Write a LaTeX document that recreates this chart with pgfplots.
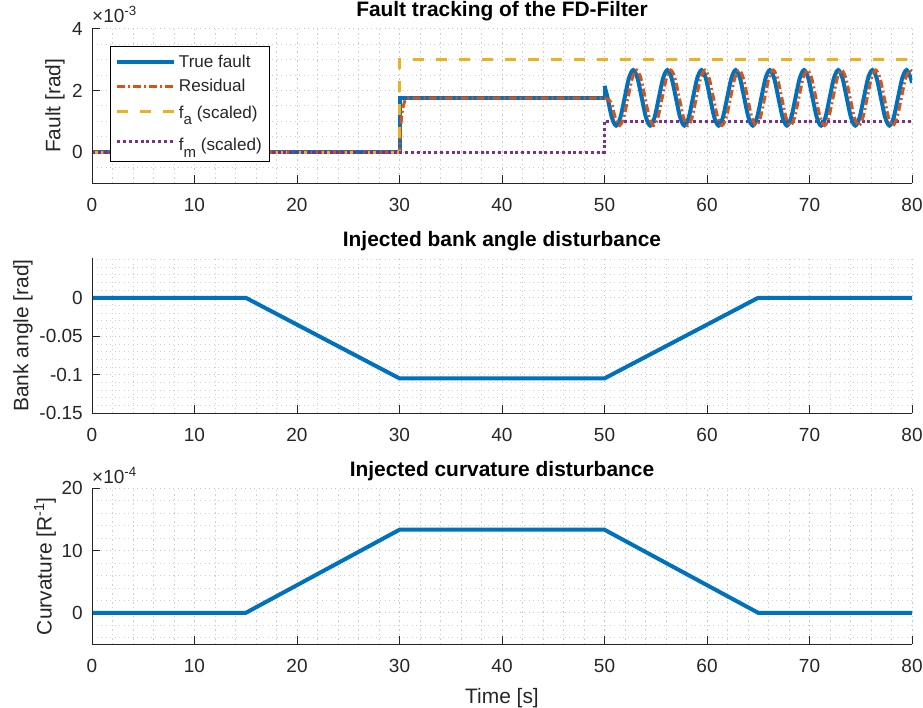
\documentclass[border=0pt]{standalone}
\usepackage{fontspec}
\setmainfont{Liberation Sans}
\usepackage{pgfplots}
\pgfplotsset{compat=1.18}
\definecolor{mblue}{rgb}{0,0.447,0.741}
\definecolor{morange}{rgb}{0.85,0.325,0.098}
\definecolor{myellow}{rgb}{0.929,0.694,0.125}
\definecolor{mpurple}{rgb}{0.494,0.184,0.556}
\definecolor{axgray}{rgb}{0.15,0.15,0.15}
\newcommand{\sub}[2]{\raisebox{-6.5bp}[0pt][#2]{\fontsize{15bp}{17bp}\selectfont #1}}
\pgfplotsset{
  mstyle/.style={
    scale only axis, width=820bp,
    xmin=0, xmax=80, xtick={0,10,...,80}, minor x tick num=4,
    enlargelimits=false, scaled ticks=false,
    axis line style={draw=none}, tick pos=left,
    tick align=inside, major tick length=8bp, minor tick length=0pt,
    tick style={line width=1bp, draw=axgray},
    grid=both,
    major grid style={line width=0.8bp, gray!45, dash pattern=on 1.2bp off 3.3bp},
    minor grid style={line width=0.8bp, gray!38, dash pattern=on 1.2bp off 3.3bp},
    ticklabel style={font=\fontsize{19bp}{22bp}\selectfont, text=axgray},
    xticklabel style={inner sep=0pt, anchor=north, yshift=-15bp},
    yticklabel style={inner sep=0pt, anchor=east, xshift=-9bp},
    label style={font=\fontsize{20.9bp}{24bp}\selectfont, text=axgray},
    every axis title shift=0pt,
    title style={font=\bfseries\fontsize{20.9bp}{24bp}\selectfont, text=black, at={(0.5,1)}, anchor=base},
    /pgf/number format/assume math mode=true,
    legend image code/.code={\draw[#1] (0bp,0bp) -- (57bp,0bp);},
  }
}
\begin{document}
\begin{tikzpicture}
\useasboundingbox (0,0) rectangle (923bp,-708bp);
% ---------------- top ----------------
\begin{axis}[mstyle, name=top, at={(92bp,-28.7bp)}, anchor=north west, height=154.3bp,
  ymin=-0.001, ymax=0.004, ytick={0,0.002,0.004}, yticklabels={0,2,4},
  minor ytick={-0.0005,0.0005,0.001,0.0015,0.0025,0.003,0.0035},
  title={Fault tracking of the FD-Filter}, title style={yshift=12.7bp},
  ylabel={Fault [rad]}, ylabel style={at={([xshift=-37bp]rel axis cs:0,0.5)}, anchor=center},
  legend style={at={(0.022,0.886)}, anchor=north west, draw=black, line width=0.8bp, fill=white,
    font=\fontsize{17.1bp}{20bp}\selectfont, text=axgray, inner xsep=5bp, inner ysep=6bp, row sep=5bp,
    nodes={inner sep=2.5bp}},
  legend cell align=left]
\addplot[mblue, line width=4bp] coordinates {(0,0) (30,0) (30,1.75e-3) (50,1.75e-3) (50,2.15e-3)};
\addlegendentry{True fault}
\addplot[morange, line width=3bp, dash pattern=on 8bp off 3bp on 2bp off 3bp] coordinates {(0,0) (30,0) (30.1,0.8e-3) (30.3,1.4e-3) (30.5,1.65e-3) (30.8,1.75e-3) (50,1.75e-3)};
\addlegendentry{Residual}
\addplot[myellow, line width=3bp, dash pattern=on 11bp off 12bp] coordinates {(0,0) (30,0) (30,3e-3) (80,3e-3)};
\addlegendentry{\rule{0pt}{15.5bp}f\sub{a}{10bp} (scaled)}
\addplot[mpurple, line width=3bp, dash pattern=on 3bp off 2.8bp] coordinates {(0,0) (50,0) (50,1e-3) (80,1e-3)};
\addlegendentry{\rule{0pt}{21bp}f\sub{m}{13bp} (scaled)}
\addplot[mblue, line width=4bp, smooth, forget plot] table {
50.000 2.15e-3
50.300 1.76e-3
50.717 1.124e-3
51.133 0.86e-3
51.550 1.124e-3
51.967 1.76e-3
52.383 2.396e-3
52.800 2.66e-3
53.217 2.396e-3
53.633 1.76e-3
54.050 1.124e-3
54.467 0.86e-3
54.883 1.124e-3
55.300 1.76e-3
55.717 2.396e-3
56.133 2.66e-3
56.550 2.396e-3
56.967 1.76e-3
57.383 1.124e-3
57.800 0.86e-3
58.217 1.124e-3
58.633 1.76e-3
59.050 2.396e-3
59.467 2.66e-3
59.883 2.396e-3
60.300 1.76e-3
60.717 1.124e-3
61.133 0.86e-3
61.550 1.124e-3
61.967 1.76e-3
62.383 2.396e-3
62.800 2.66e-3
63.217 2.396e-3
63.633 1.76e-3
64.050 1.124e-3
64.467 0.86e-3
64.883 1.124e-3
65.300 1.76e-3
65.717 2.396e-3
66.133 2.66e-3
66.550 2.396e-3
66.967 1.76e-3
67.383 1.124e-3
67.800 0.86e-3
68.217 1.124e-3
68.633 1.76e-3
69.050 2.396e-3
69.467 2.66e-3
69.883 2.396e-3
70.300 1.76e-3
70.717 1.124e-3
71.133 0.86e-3
71.550 1.124e-3
71.967 1.76e-3
72.383 2.396e-3
72.800 2.66e-3
73.217 2.396e-3
73.633 1.76e-3
74.050 1.124e-3
74.467 0.86e-3
74.883 1.124e-3
75.300 1.76e-3
75.717 2.396e-3
76.133 2.66e-3
76.550 2.396e-3
76.967 1.76e-3
77.383 1.124e-3
77.800 0.86e-3
78.217 1.124e-3
78.633 1.76e-3
79.050 2.396e-3
79.467 2.66e-3
79.883 2.396e-3
80.000 2.24e-3
};
\addplot[morange, line width=3bp, smooth, forget plot, dash pattern=on 8bp off 3bp on 2bp off 3bp] table {
50.000 1.75e-3
50.630 1.62e-3
51.047 1.124e-3
51.463 0.86e-3
51.880 1.124e-3
52.297 1.76e-3
52.713 2.396e-3
53.130 2.66e-3
53.547 2.396e-3
53.963 1.76e-3
54.380 1.124e-3
54.797 0.86e-3
55.213 1.124e-3
55.630 1.76e-3
56.047 2.396e-3
56.463 2.66e-3
56.880 2.396e-3
57.297 1.76e-3
57.713 1.124e-3
58.130 0.86e-3
58.547 1.124e-3
58.963 1.76e-3
59.380 2.396e-3
59.797 2.66e-3
60.213 2.396e-3
60.630 1.76e-3
61.047 1.124e-3
61.463 0.86e-3
61.880 1.124e-3
62.297 1.76e-3
62.713 2.396e-3
63.130 2.66e-3
63.547 2.396e-3
63.963 1.76e-3
64.380 1.124e-3
64.797 0.86e-3
65.213 1.124e-3
65.630 1.76e-3
66.047 2.396e-3
66.463 2.66e-3
66.880 2.396e-3
67.297 1.76e-3
67.713 1.124e-3
68.130 0.86e-3
68.547 1.124e-3
68.963 1.76e-3
69.380 2.396e-3
69.797 2.66e-3
70.213 2.396e-3
70.630 1.76e-3
71.047 1.124e-3
71.463 0.86e-3
71.880 1.124e-3
72.297 1.76e-3
72.713 2.396e-3
73.130 2.66e-3
73.547 2.396e-3
73.963 1.76e-3
74.380 1.124e-3
74.797 0.86e-3
75.213 1.124e-3
75.630 1.76e-3
76.047 2.396e-3
76.463 2.66e-3
76.880 2.396e-3
77.297 1.76e-3
77.713 1.124e-3
78.130 0.86e-3
78.547 1.124e-3
78.963 1.76e-3
79.380 2.396e-3
79.797 2.66e-3
80.000 2.60e-3
};
\end{axis}
\draw[axgray, line width=1bp] (top.north west) -- (top.south west) -- (top.south east);
\node[anchor=base west, inner sep=0pt, text=axgray, font=\fontsize{19bp}{22bp}\selectfont] at ([yshift=6bp]top.north west) {×10\textsuperscript{-3}};
% ---------------- middle ----------------
\begin{axis}[mstyle, name=mid, at={(92bp,-257.7bp)}, anchor=north west, height=155.6bp,
  ymin=-0.15, ymax=0.052, ytick={-0.15,-0.1,-0.05,0}, yticklabels={-0.15,-0.1,-0.05,0},
  minor ytick={-0.14,-0.13,-0.12,-0.11,-0.09,-0.08,-0.07,-0.06,-0.04,-0.03,-0.02,-0.01,0.01,0.02,0.03,0.04,0.05},
  title={Injected bank angle disturbance}, title style={yshift=11bp},
  ylabel={Bank angle [rad]}, ylabel style={at={([xshift=-69bp]rel axis cs:0,0.5)}, anchor=center}]
\addplot[mblue, line width=4bp] coordinates {(0,0) (15,0) (30,-0.1047) (50,-0.1047) (65,0) (80,0)};
\end{axis}
\draw[axgray, line width=1bp] (mid.north west) -- (mid.south west) -- (mid.south east);
% ---------------- bottom ----------------
\begin{axis}[mstyle, name=bot, at={(92bp,-488.3bp)}, anchor=north west, height=155.7bp,
  ymin=-0.0005, ymax=0.002, ytick={0,0.001,0.002}, yticklabels={0,10,20},
  minor ytick={-0.0004,-0.0002,0.0002,0.0004,0.0006,0.0008,0.0012,0.0014,0.0016,0.0018},
  title={Injected curvature disturbance}, title style={yshift=11.6bp},
  ylabel={Curvature [R\textsuperscript{-1}]}, ylabel style={at={([xshift=-47bp]rel axis cs:0,0.5)}, anchor=center},
  xlabel={Time [s]}, xlabel style={at={([yshift=-59bp]rel axis cs:0.5,0)}, anchor=base}]
\addplot[mblue, line width=4bp] coordinates {(0,0) (15,0) (30,1.335e-3) (50,1.335e-3) (65,0) (80,0)};
\end{axis}
\draw[axgray, line width=1bp] (bot.north west) -- (bot.south west) -- (bot.south east);
\node[anchor=base west, inner sep=0pt, text=axgray, font=\fontsize{19bp}{22bp}\selectfont] at ([yshift=4.5bp]bot.north west) {×10\textsuperscript{-4}};
\end{tikzpicture}
\end{document}
